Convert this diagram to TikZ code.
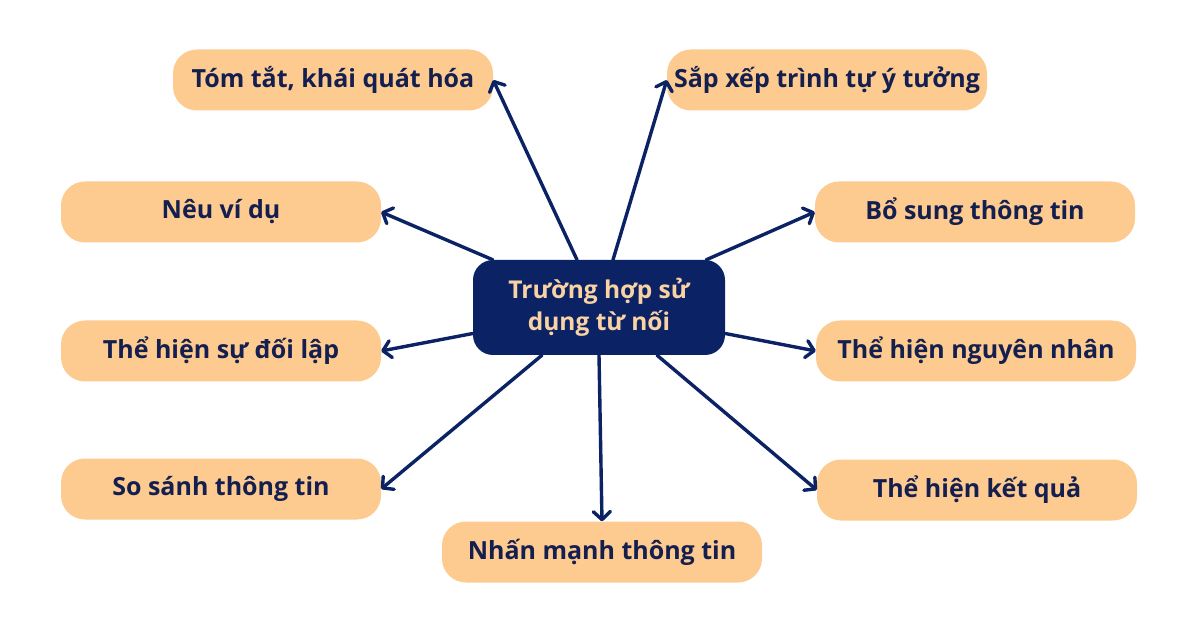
\documentclass[tikz,border=0pt]{standalone}
\usepackage{fontspec}
\setmainfont{Open Sans}
\usetikzlibrary{arrows.meta}
\definecolor{peach}{HTML}{FDCB8F}
\definecolor{navy}{HTML}{0B2265}
\definecolor{navytext}{HTML}{141F4F}
\definecolor{peachtext}{HTML}{F9D3A3}
\begin{document}
\begin{tikzpicture}[x=1pt,y=-1pt,
  sat/.style={fill=peach, rounded corners=24pt, minimum width=320pt, minimum height=61pt,
    inner sep=0pt, text=navytext, font=\fontsize{25}{30}\selectfont\bfseries},
  hub/.style={fill=navy, rounded corners=20pt, minimum width=252pt, minimum height=95pt,
    inner sep=0pt, text=peachtext, align=center, font=\fontsize{24.5}{32}\selectfont\bfseries},
  conn/.style={draw=navy, line width=3.4pt, line cap=round,
    -{Straight Barb[length=8pt,width=17pt,line cap=round,line join=round]}}
]
\useasboundingbox[fill=white] (0,0) rectangle (1200,628);
\node[hub] (hub) at (599,307.5) {Trường hợp sử\\dụng từ nối};
\node[sat] (tom) at (333,80) {Tóm tắt, khái quát hóa};
\node[sat] (sap) at (827,80) {Sắp xếp trình tự ý tưởng};
\node[sat] (neu) at (221,212) {Nêu ví dụ};
\node[sat] (bo)  at (975,212) {Bổ sung thông tin};
\node[sat] (dol) at (221,351) {Thể hiện sự đối lập};
\node[sat] (ng)  at (976,351) {Thể hiện nguyên nhân};
\node[sat] (ss)  at (221,489) {So sánh thông tin};
\node[sat] (kq)  at (977,490) {Thể hiện kết quả};
\node[sat] (nm)  at (602,552) {Nhấn mạnh thông tin};

\draw[conn] ([xshift=-22pt]hub.north) -- (tom.east);
\draw[conn] ([xshift=14pt]hub.north) -- (sap.west);
\draw[conn] ([xshift=20pt]hub.north west) -- (neu.east);
\draw[conn] ([xshift=-19pt]hub.north east) -- (bo.west);
\draw[conn] ([yshift=-26pt]hub.west) -- (dol.east);
\draw[conn] ([yshift=-26pt]hub.east) -- (ng.west);
\draw[conn] ([xshift=-57pt]hub.south) -- (ss.east);
\draw[conn] ([xshift=58pt]hub.south) -- (kq.west);
\draw[conn] (hub.south) -- (nm.north);
\end{tikzpicture}
\end{document}
